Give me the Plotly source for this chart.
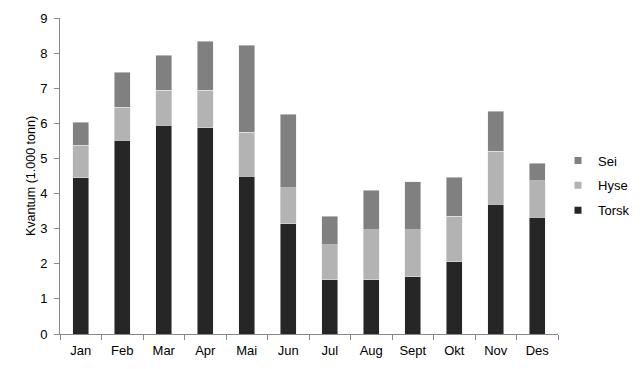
import plotly.graph_objects as go

months = ["Jan", "Feb", "Mar", "Apr", "Mai", "Jun", "Jul", "Aug", "Sept", "Okt", "Nov", "Des"]
torsk = [4.45, 5.52, 5.95, 5.87, 4.50, 3.14, 1.54, 1.54, 1.63, 2.06, 3.70, 3.33]
hyse = [0.93, 0.94, 0.99, 1.07, 1.25, 1.02, 1.00, 1.43, 1.34, 1.30, 1.51, 1.03]
sei = [0.65, 1.00, 1.00, 1.40, 2.47, 2.10, 0.82, 1.13, 1.36, 1.11, 1.14, 0.51]

series = [("Torsk", torsk, "#262626", "t"), ("Hyse", hyse, "#b3b3b3", "h"), ("Sei", sei, "#808080", "s")]

fig = go.Figure()
for name, vals, col, grp in series:
    fig.add_trace(go.Bar(x=months, y=vals, name=name, marker_color=col,
                         legendgroup=grp, showlegend=False))
for name, vals, col, grp in reversed(series):
    fig.add_trace(go.Scatter(x=[None], y=[None], mode="markers", name=name,
                             marker=dict(symbol="square", size=7, color=col),
                             legendgroup=grp, showlegend=True))

font = "Liberation Sans, Arial, sans-serif"
fig.update_layout(
    barmode="stack",
    bargap=0.61,
    width=636, height=361,
    margin=dict(l=52, r=86, t=10, b=35, autoexpand=False),
    plot_bgcolor="white", paper_bgcolor="white",
    font=dict(family=font, size=13, color="#000000"),
    showlegend=True,
    legend=dict(x=1.0, y=0.47, xanchor="left", yanchor="middle",
                traceorder="grouped", tracegroupgap=5, itemwidth=30,
                font=dict(size=13, family=font)),
    xaxis=dict(showline=True, linecolor="#888888", linewidth=1,
               ticks="outside", tickson="boundaries", ticklen=5, tickcolor="#888888",
               showgrid=False, tickfont=dict(size=13), automargin=False,
               ticklabelstandoff=4),
    yaxis=dict(range=[0, 9], dtick=1, showline=True, linecolor="#888888", linewidth=1,
               ticks="outside", ticklen=5, tickcolor="#888888", showgrid=False,
               zeroline=False, tickfont=dict(size=13), automargin=False,
               ticklabelstandoff=4,
               title=dict(text="Kvantum (1.000 tonn)", font=dict(size=12.5), standoff=1)),
)
fig.write_html("out.html")
